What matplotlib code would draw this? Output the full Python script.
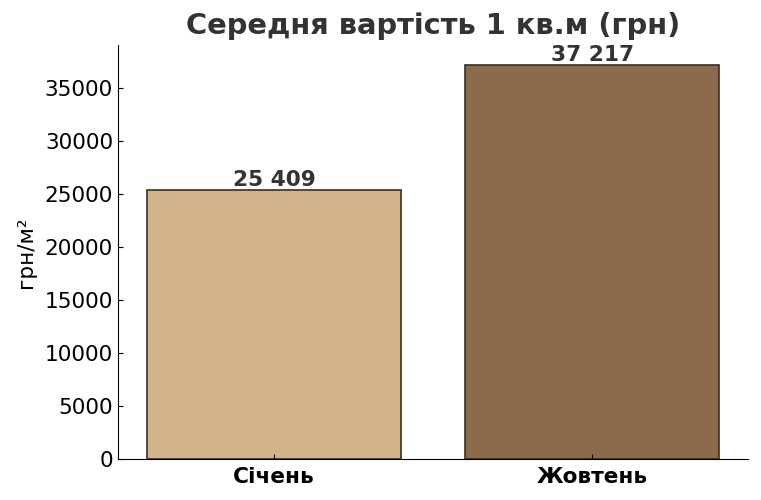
import matplotlib
matplotlib.use("Agg")
import matplotlib.pyplot as plt

months = ["Січень", "Жовтень"]
prices = [25409, 37217]
colors = ["#D2B48C", "#8B6B4B"]

fig = plt.figure(figsize=(7.61, 5), dpi=100)
ax = fig.add_axes([0.155, 0.082, 0.828, 0.828])

bars = ax.bar(months, prices, color=colors, edgecolor="#3b2e20", linewidth=1.2)

for bar, value in zip(bars, prices):
    label = f"{value:,}".replace(",", " ")
    ax.text(
        bar.get_x() + bar.get_width() / 2,
        bar.get_height() + 20,
        label,
        ha="center",
        va="bottom",
        fontsize=15.6,
        fontweight="bold",
        color="#333333",
    )

ax.set_title("Середня вартість 1 кв.м (грн)", fontsize=20.8, fontweight="bold",
             color="#333333", pad=8)
ax.set_ylabel("грн/м²", fontsize=15.5, labelpad=6)

ax.tick_params(axis="both", direction="in", labelsize=15.6)
ax.tick_params(axis="x", pad=6)
for lbl in ax.get_xticklabels():
    lbl.set_fontweight("bold")

ax.spines["top"].set_visible(False)
ax.spines["right"].set_visible(False)

fig.savefig("out.png", dpi=100)
